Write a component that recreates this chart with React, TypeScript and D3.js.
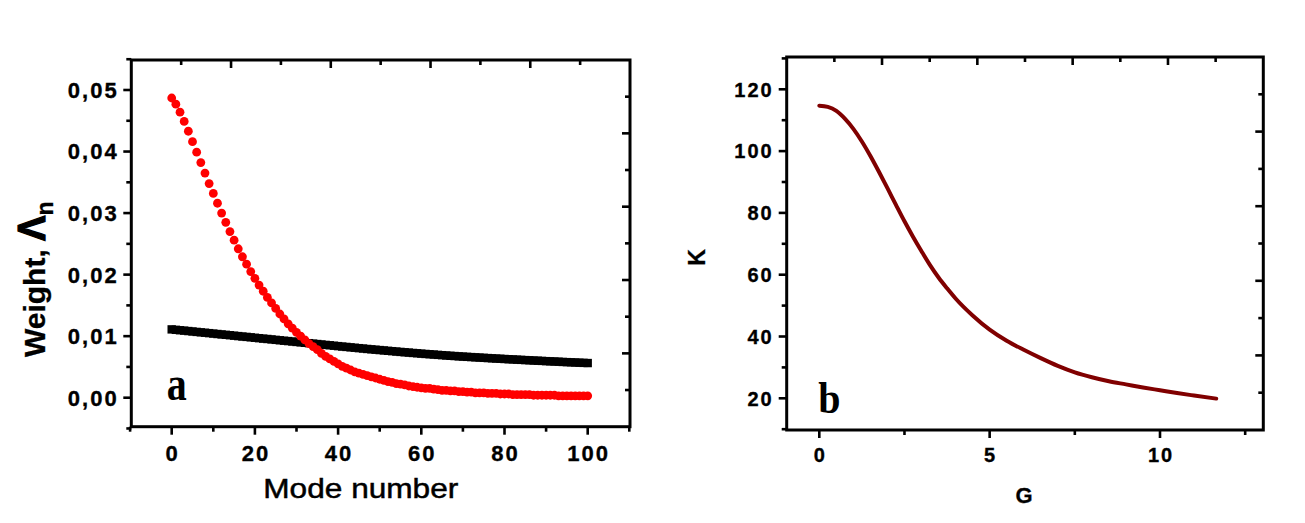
import React from "react";
import * as d3 from "d3";

// ---------- Data ----------
const modeNumbers: number[] = d3.range(0, 101);

const redWeights: number[] = [
  0.0487, 0.0477, 0.0464, 0.0449, 0.0433, 0.0416, 0.0399, 0.0382, 0.0365, 0.0348,
  0.0332, 0.0316, 0.0300, 0.0285, 0.0270, 0.0256, 0.0242, 0.0229, 0.0217, 0.0205,
  0.0194, 0.0183, 0.0173, 0.0163, 0.0154, 0.0145, 0.0136, 0.0128, 0.0120, 0.0113,
  0.0106, 0.0100, 0.0094, 0.0088, 0.0083, 0.0078, 0.0072, 0.0067, 0.0063, 0.0059,
  0.0055, 0.0051, 0.0048, 0.0045, 0.0042, 0.0040, 0.0038, 0.0036, 0.0034, 0.0032,
  0.0030, 0.0028, 0.0026, 0.0025, 0.0023, 0.0022, 0.0021, 0.0019, 0.0018, 0.0017,
  0.0016, 0.0015, 0.0015, 0.0014, 0.0013, 0.0012, 0.0012, 0.0011, 0.0011, 0.0010,
  0.0010, 0.0009, 0.0009, 0.0008, 0.0008, 0.0008, 0.0007, 0.0007, 0.0007, 0.0006,
  0.0006, 0.0006, 0.0005, 0.0005, 0.0005, 0.0005, 0.0005, 0.0004, 0.0004, 0.0004,
  0.0004, 0.0004, 0.0004, 0.0003, 0.0003, 0.0003, 0.0003, 0.0003, 0.0003, 0.0003,
  0.0003,
];

const blackWeights: number[] = [
  0.01110, 0.01103, 0.01096, 0.01090, 0.01083, 0.01076, 0.01069, 0.01062, 0.01056, 0.01049,
  0.01042, 0.01035, 0.01028, 0.01022, 0.01015, 0.01008, 0.01001, 0.00994, 0.00988, 0.00981,
  0.00974, 0.00967, 0.00960, 0.00954, 0.00947, 0.00940, 0.00933, 0.00926, 0.00920, 0.00913,
  0.00906, 0.00899, 0.00892, 0.00886, 0.00879, 0.00872, 0.00865, 0.00858, 0.00852, 0.00845,
  0.00838, 0.00831, 0.00825, 0.00818, 0.00812, 0.00805, 0.00799, 0.00792, 0.00786, 0.00780,
  0.00774, 0.00768, 0.00762, 0.00756, 0.00750, 0.00744, 0.00738, 0.00733, 0.00727, 0.00722,
  0.00716, 0.00711, 0.00706, 0.00701, 0.00696, 0.00691, 0.00686, 0.00681, 0.00677, 0.00672,
  0.00668, 0.00664, 0.00660, 0.00656, 0.00652, 0.00648, 0.00644, 0.00640, 0.00636, 0.00633,
  0.00629, 0.00625, 0.00622, 0.00618, 0.00615, 0.00611, 0.00608, 0.00604, 0.00601, 0.00598,
  0.00594, 0.00591, 0.00588, 0.00585, 0.00581, 0.00578, 0.00575, 0.00572, 0.00569, 0.00566,
  0.00563,
];

const gValues: number[] = [
  0, 0.25, 0.5, 0.75, 1, 1.25, 1.5, 1.75, 2, 2.25, 2.5, 2.75, 3, 3.25, 3.5, 3.75, 4,
  4.5, 5, 5.5, 6, 6.5, 7, 7.5, 8, 8.5, 9, 9.5, 10, 10.5, 11, 11.65,
];
const kValues: number[] = [
  114.7, 114.3, 113.0, 110.5, 107.2, 103.1, 98.4, 93.3, 88.0, 82.6, 77.3, 72.3, 67.6,
  63.1, 59.1, 55.6, 52.3, 46.8, 42.2, 38.6, 35.7, 33.0, 30.5, 28.4, 26.8, 25.5, 24.5,
  23.5, 22.6, 21.7, 20.9, 19.9,
];

const xTicksA: number[] = [0, 20, 40, 60, 80, 100];
const xMinorA: number[] = [-10, 10, 30, 50, 70, 90, 110];
const yTicksA: number[] = [0, 0.01, 0.02, 0.03, 0.04, 0.05];
const yMinorA: number[] = [-0.005, 0.005, 0.015, 0.025, 0.035, 0.045, 0.055];

const xTicksB: number[] = [0, 5, 10];
const xMinorB: number[] = [2.5, 7.5, 12.5];
const yTicksB: number[] = [20, 40, 60, 80, 100, 120];
const yMinorB: number[] = [10, 30, 50, 70, 90, 110, 130];

const divisions: number[] = d3.range(1, 10);

// ---------- Layout ----------
const W = 1305;
const H = 523;
const FONT = "'Liberation Sans', Arial, sans-serif";
const SERIF = "'Liberation Serif', 'Times New Roman', serif";

const boxA = { left: 131.3, right: 630, top: 60, bottom: 426.7 };
const boxB = { left: 786.7, right: 1263.3, top: 57, bottom: 430 };

const xA = d3.scaleLinear().domain([0, 100]).range([171.7, 587.7]);
const yA = d3.scaleLinear().domain([0, 0.05]).range([397.7, 90]);
const xB = d3.scaleLinear().domain([0, 10]).range([819.3, 1160]);
const yB = d3.scaleLinear().domain([20, 120]).range([398.3, 89.3]);

const fmtA = (v: number) => d3.format(".2f")(v).replace(".", ",");

type Box = { left: number; right: number; top: number; bottom: number };

function Frame({
  box,
  xs,
  ys,
  xMajor,
  xMinor,
  yMajor,
  yMinor,
  xFmt,
  yFmt,
  fontSize,
  yLabelX,
  xLabelY,
  spacing,
}: {
  box: Box;
  xs: d3.ScaleLinear<number, number>;
  ys: d3.ScaleLinear<number, number>;
  xMajor: number[];
  xMinor: number[];
  yMajor: number[];
  yMinor: number[];
  xFmt: (v: number) => string;
  yFmt: (v: number) => string;
  fontSize: number;
  yLabelX: number;
  xLabelY: number;
  spacing: number;
}) {
  const sw = 3;
  const tw = 2.6;
  const inRangeX = (v: number) => xs(v) >= box.left - 2 && xs(v) <= box.right + 2;
  const inRangeY = (v: number) => ys(v) <= box.bottom + 2 && ys(v) >= box.top - 2;
  const topScale = d3.scaleLinear().domain([0, 10]).range([box.left, box.right]);
  const rightScale = d3.scaleLinear().domain([0, 10]).range([box.top, box.bottom]);
  return (
    <g>
      {xMajor.map((v) => (
        <line key={"xm" + v} x1={xs(v)} x2={xs(v)} y1={box.bottom} y2={box.bottom + 8} stroke="#000" strokeWidth={tw} />
      ))}
      {xMinor.filter(inRangeX).map((v) => (
        <line key={"xn" + v} x1={xs(v)} x2={xs(v)} y1={box.bottom} y2={box.bottom + 5} stroke="#000" strokeWidth={tw} />
      ))}
      {yMajor.map((v) => (
        <line key={"ym" + v} x1={box.left - 8} x2={box.left} y1={ys(v)} y2={ys(v)} stroke="#000" strokeWidth={tw} />
      ))}
      {yMinor.filter(inRangeY).map((v) => (
        <line key={"yn" + v} x1={box.left - 5} x2={box.left} y1={ys(v)} y2={ys(v)} stroke="#000" strokeWidth={tw} />
      ))}
      {divisions.map((k) => (
        <line key={"t" + k} x1={topScale(k)} x2={topScale(k)} y1={box.top} y2={box.top + (k % 2 === 0 ? 8 : 5)} stroke="#000" strokeWidth={tw} />
      ))}
      {divisions.map((k) => (
        <line key={"r" + k} x1={box.right - (k % 2 === 0 ? 8 : 5)} x2={box.right} y1={rightScale(k)} y2={rightScale(k)} stroke="#000" strokeWidth={tw} />
      ))}
      <rect x={box.left} y={box.top} width={box.right - box.left} height={box.bottom - box.top} fill="none" stroke="#000" strokeWidth={sw} />
      {xMajor.map((v) => (
        <text key={"xl" + v} x={xs(v) + spacing / 2} y={xLabelY} textAnchor="middle" fontFamily={FONT} fontWeight="bold" fontSize={fontSize} letterSpacing={spacing} stroke="#000" strokeWidth={0.35}>
          {xFmt(v)}
        </text>
      ))}
      {yMajor.map((v) => (
        <text key={"yl" + v} x={yLabelX + spacing} y={ys(v)} dy="0.36em" textAnchor="end" fontFamily={FONT} fontWeight="bold" fontSize={fontSize} letterSpacing={spacing} stroke="#000" strokeWidth={0.35}>
          {yFmt(v)}
        </text>
      ))}
    </g>
  );
}

export default function App() {
  const line = d3
    .line<number>()
    .x((_, i) => xB(gValues[i]))
    .y((d) => yB(d))
    .curve(d3.curveMonotoneX);

  return (
    <svg width={W} height={H} style={{ position: "absolute", left: 0, top: 0, background: "#fff" }}>
      <rect x={0} y={0} width={W} height={H} fill="#fff" />
      {/* ---------- Panel a ---------- */}
      <Frame
        box={boxA}
        xs={xA}
        ys={yA}
        xMajor={xTicksA}
        xMinor={xMinorA}
        yMajor={yTicksA}
        yMinor={yMinorA}
        xFmt={(v) => String(v)}
        yFmt={fmtA}
        fontSize={22}
        yLabelX={116.7}
        xLabelY={460.7}
        spacing={2}
      />
      <g>
        {modeNumbers.map((n, i) => (
          <rect key={"b" + n} x={xA(n) - 4.2} y={yA(blackWeights[i]) - 4.2} width={8.4} height={8.4} fill="#000" />
        ))}
      </g>
      <g>
        {modeNumbers.map((n, i) => (
          <circle key={"r" + n} cx={xA(n)} cy={yA(redWeights[i])} r={4.4} fill="#ff0000" />
        ))}
      </g>
      <text transform="translate(45,357) rotate(-90)" fontFamily={FONT} fontWeight="bold" fontSize={30} stroke="#000" strokeWidth={0.3}>
        Weight,{" "}
        <tspan fontSize={38} strokeWidth={1.2}>Λ</tspan>
        <tspan fontSize={23} dy={8}>n</tspan>
      </text>
      <text x={263.3} y={498.3} fontFamily={FONT} fontSize={28} textLength={195} lengthAdjust="spacingAndGlyphs" stroke="#000" strokeWidth={0.5}>
        Mode number
      </text>
      <text transform="translate(166.7,400) scale(1,1.2)" fontFamily={SERIF} fontWeight="bold" fontSize={40}>
        a
      </text>

      {/* ---------- Panel b ---------- */}
      <Frame
        box={boxB}
        xs={xB}
        ys={yB}
        xMajor={xTicksB}
        xMinor={xMinorB}
        yMajor={yTicksB}
        yMinor={yMinorB}
        xFmt={(v) => String(v)}
        yFmt={(v) => String(v)}
        fontSize={20}
        yLabelX={771.7}
        xLabelY={461.7}
        spacing={2}
      />
      <path d={line(kValues) || ""} fill="none" stroke="#800000" strokeWidth={4} strokeLinecap="round" strokeLinejoin="round" />
      <text transform="translate(705,257.5) rotate(-90)" textAnchor="middle" fontFamily={FONT} fontWeight="bold" fontSize={23} stroke="#000" strokeWidth={0.3}>
        K
      </text>
      <text x={1024} y={503} textAnchor="middle" fontFamily={FONT} fontWeight="bold" fontSize={22} stroke="#000" strokeWidth={0.3}>
        G
      </text>
      <text transform="translate(818.3,413.3) scale(1,1.1)" fontFamily={SERIF} fontWeight="bold" fontSize={40}>
        b
      </text>
    </svg>
  );
}
